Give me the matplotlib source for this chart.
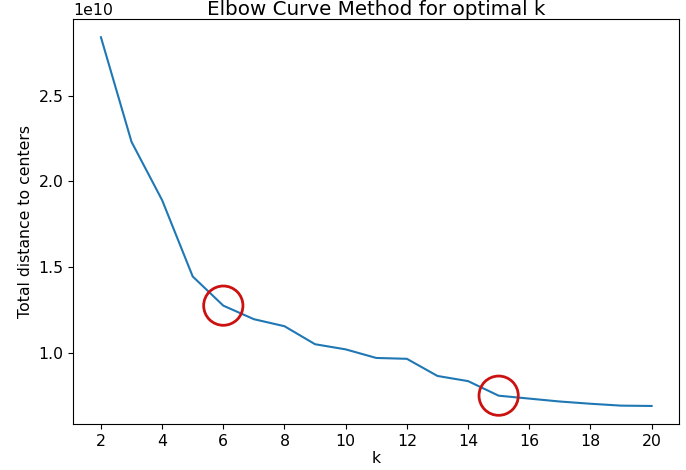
import matplotlib
matplotlib.use("Agg")
import matplotlib.pyplot as plt

# elbow values (in units of 1e10)
k_values = list(range(2, 21))
distances = [2.84, 2.23, 1.89, 1.445, 1.275, 1.196, 1.155, 1.05, 1.02, 0.97,
             0.965, 0.865, 0.835, 0.75, 0.733, 0.716, 0.703, 0.692, 0.69]
highlight_k = [6, 15]

plt.rcParams["font.size"] = 11.3

dist = [d * 1e10 for d in distances]

fig, ax = plt.subplots(figsize=(6.86, 4.7), dpi=100)
ax.plot(k_values, dist)

hx = highlight_k
hy = [dist[k_values.index(k)] for k in highlight_k]
ax.scatter(hx, hy, s=800, facecolors="none", edgecolors="#cc1111", linewidths=2, zorder=3)

ax.set_xticks(range(2, 21, 2))
ax.set_title("Elbow Curve Method for optimal k", fontsize=14.3, pad=3)
ax.set_xlabel("k", labelpad=1)
ax.set_ylabel("Total distance to centers")

fig.subplots_adjust(left=0.107, right=0.99, top=0.96, bottom=0.097)
fig.savefig("out.png")
